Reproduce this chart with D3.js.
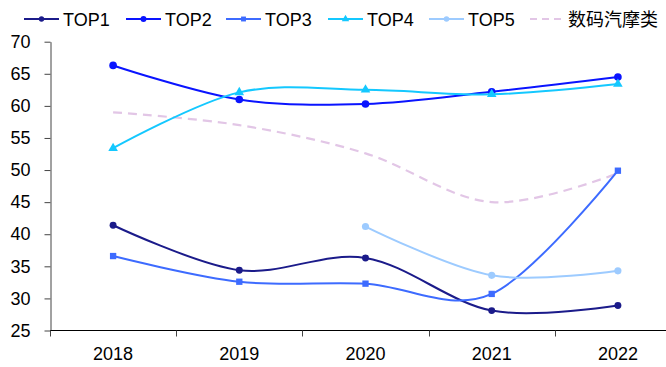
<!DOCTYPE html>
<html>
<head>
<meta charset="utf-8">
<script src="https://cdn.jsdelivr.net/npm/d3@7/dist/d3.min.js"></script>
<style>
  html, body { margin: 0; padding: 0; background: #fff; }
  svg { display: block; }
  text { font-family: "Liberation Sans", Arial, sans-serif; fill: #000; }
</style>
</head>
<body>
<svg id="chart" width="666" height="367"></svg>
<script>
// Years on the category axis
const years = ["2018", "2019", "2020", "2021", "2022"];

// Series values (null where a series has no data)
const top1 = [41.4, 34.4, 36.3, 28.1, 28.9];
const top2 = [66.3, 61.0, 60.3, 62.2, 64.5];
const top3 = [36.6, 32.6, 32.3, 30.7, 49.9];
const top4 = [53.4, 62.1, 62.5, 61.8, 63.4];
const top5 = [null, null, 41.2, 33.6, 34.3];
const sector = [59.0, 57.0, 52.6, 45.0, 49.5];

// Value axis ticks
const yTicks = [25, 30, 35, 40, 45, 50, 55, 60, 65, 70];

const seriesNames = ["TOP1", "TOP2", "TOP3", "TOP4", "TOP5", "数码汽摩类"];

const series = [
  { name: seriesNames[0], values: top1,   color: "#1b1b8a", symbol: d3.symbolCircle,   size: 38, dashed: false },
  { name: seriesNames[1], values: top2,   color: "#0a14ff", symbol: d3.symbolCircle,   size: 46, dashed: false },
  { name: seriesNames[2], values: top3,   color: "#3d6bff", symbol: d3.symbolSquare,   size: 40, dashed: false },
  { name: seriesNames[3], values: top4,   color: "#14c8ff", symbol: d3.symbolTriangle, size: 40, dashed: false },
  { name: seriesNames[4], values: top5,   color: "#9dcbff", symbol: d3.symbolCircle,   size: 40, dashed: false },
  { name: seriesNames[5], values: sector, color: "#e2c6e6", symbol: null,              size: 0,  dashed: true }
];

const svg = d3.select("#chart");

const x = d3.scaleBand().domain(years).range([50, 681]);
const y = d3.scaleLinear().domain([25, 70]).range([330.5, 41.7]);

// Value axis
const yAxis = svg.append("g")
  .attr("transform", "translate(50.5,0)")
  .call(d3.axisLeft(y).tickValues(yTicks).tickSize(6).tickPadding(14).tickSizeOuter(0));
yAxis.select(".domain").attr("stroke", "#444").attr("stroke-width", 1);
yAxis.selectAll(".tick line").attr("stroke", "#444");
yAxis.selectAll(".tick text")
  .style("font-family", "'Liberation Sans', Arial, sans-serif")
  .style("font-size", "18px").attr("fill", "#000");

// Category axis: ticks sit on band boundaries
const xAxisG = svg.append("g").attr("transform", "translate(0,330.5)");
xAxisG.append("line")
  .attr("x1", 50).attr("x2", 666).attr("y1", 0).attr("y2", 0)
  .attr("stroke", "#000").attr("stroke-width", 1);
const bounds = years.map(d => x(d)).concat([x.range()[1]]);
xAxisG.selectAll("line.tk").data(bounds).join("line")
  .attr("class", "tk")
  .attr("x1", d => Math.round(d) + 0.5).attr("x2", d => Math.round(d) + 0.5)
  .attr("y1", 0).attr("y2", 6)
  .attr("stroke", "#444");
xAxisG.selectAll("text").data(years).join("text")
  .attr("x", d => x(d) + x.bandwidth() / 2)
  .attr("y", 29)
  .attr("text-anchor", "middle")
  .style("font-size", "18px")
  .text(d => d);

const cx = (d, i) => x(years[i]) + x.bandwidth() / 2;

const line = d3.line()
  .defined(d => d != null)
  .x(cx)
  .y(d => y(d))
  .curve(d3.curveCardinal.tension(0));

// Draw the dashed sector average first so the company lines sit above it
const order = [5, 0, 1, 2, 3, 4];
order.forEach(k => {
  const s = series[k];
  const g = svg.append("g");
  g.append("path")
    .datum(s.values)
    .attr("d", line)
    .attr("fill", "none")
    .attr("stroke", s.color)
    .attr("stroke-width", s.dashed ? 2.2 : 2)
    .attr("stroke-dasharray", s.dashed ? "9,6" : null);
  if (s.symbol) {
    g.selectAll("path.m")
      .data(s.values.map((v, i) => ({ v, i })).filter(d => d.v != null))
      .join("path")
      .attr("class", "m")
      .attr("transform", d => `translate(${cx(d.v, d.i)},${y(d.v)})`)
      .attr("d", d3.symbol().type(s.symbol).size(s.size))
      .attr("fill", s.color);
  }
});

// Legend
const legendX = [24, 126, 226, 328, 429, 530];
const legend = svg.append("g").attr("transform", "translate(0,19)");
series.forEach((s, k) => {
  const g = legend.append("g").attr("transform", `translate(${legendX[k]},0)`);
  g.append("line")
    .attr("x1", 0).attr("x2", 35).attr("y1", 0).attr("y2", 0)
    .attr("stroke", s.color).attr("stroke-width", 2)
    .attr("stroke-dasharray", s.dashed ? "7,5" : null);
  if (s.symbol) {
    g.append("path")
      .attr("transform", "translate(17.5,0)")
      .attr("d", d3.symbol().type(s.symbol).size(s.size * 0.6))
      .attr("fill", s.color);
  }
  g.append("text")
    .attr("x", s.dashed ? 38 : 39)
    .attr("y", 6.5)
    .style("font-size", "18px")
    .style("font-family", s.dashed ? "'Noto Sans CJK SC', sans-serif" : "'Liberation Sans', Arial, sans-serif")
    .attr("fill", s.dashed ? "#333" : "#000")
    .text(s.name);
});
</script>
</body>
</html>
